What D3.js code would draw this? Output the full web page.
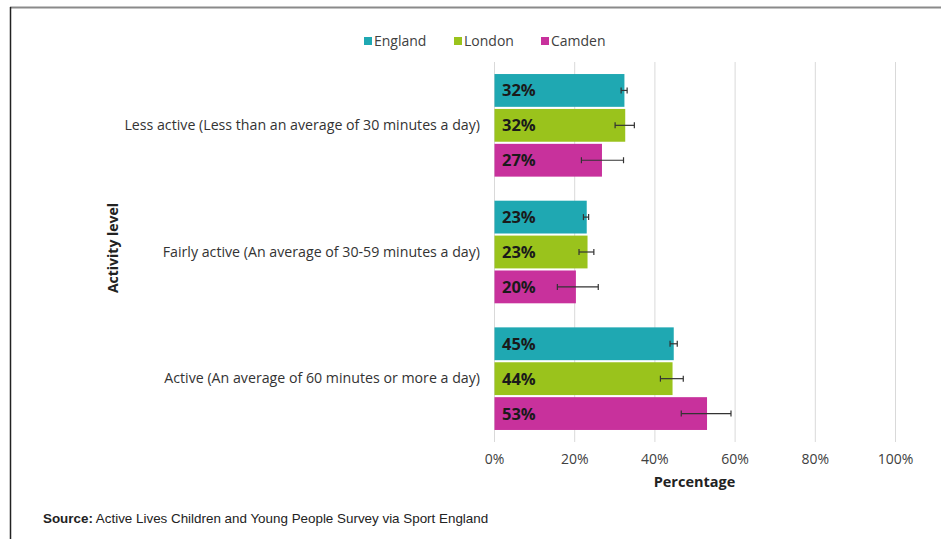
<!DOCTYPE html>
<html>
<head>
<meta charset="utf-8">
<script src="https://cdn.jsdelivr.net/npm/d3@7"></script>
<style>
  html, body { margin: 0; padding: 0; background: #fff; }
  svg { display: block; }
</style>
</head>
<body>
<svg id="chart" width="941" height="539"></svg>
<script>
const categories = [
  "Less active (Less than an average of 30 minutes a day)",
  "Fairly active (An average of 30-59 minutes a day)",
  "Active (An average of 60 minutes or more a day)"
];
const seriesNames = ["England", "London", "Camden"];
const seriesColors = ["#1fa8b2", "#9ac31c", "#c8319c"];
const englandValues = [32.4, 23.0, 44.7];
const londonValues  = [32.6, 23.2, 44.4];
const camdenValues  = [26.8, 20.3, 53.0];
const englandLow  = [31.7, 22.3, 43.9];
const englandHigh = [33.2, 23.6, 45.7];
const londonLow   = [30.2, 21.2, 41.5];
const londonHigh  = [35.0, 24.9, 47.2];
const camdenLow   = [21.8, 15.8, 46.7];
const camdenHigh  = [32.3, 26.0, 59.1];
const valueLabels = [["32%", "23%", "45%"], ["32%", "23%", "44%"], ["27%", "20%", "53%"]];
const xTicks = [0, 20, 40, 60, 80, 100];

const values = [englandValues, londonValues, camdenValues];
const lows = [englandLow, londonLow, camdenLow];
const highs = [englandHigh, londonHigh, camdenHigh];

const svg = d3.select("#chart");
const font = "'Open Sans', Lato, sans-serif";

// frame
svg.append("line").attr("x1", 10).attr("x2", 941).attr("y1", 7.5).attr("y2", 7.5)
  .attr("stroke", "#8a8a8a").attr("stroke-width", 2);
svg.append("line").attr("x1", 10.5).attr("x2", 10.5).attr("y1", 7).attr("y2", 539)
  .attr("stroke", "#222").attr("stroke-width", 1.5);

const x = d3.scaleLinear().domain([0, 100]).range([494, 895]);
const y = d3.scaleBand().domain(categories).range([62, 442]).paddingInner(0.19).paddingOuter(0.095);
const ySub = d3.scaleBand().domain(seriesNames).range([0, y.bandwidth()]).paddingInner(0.06);

// gridlines
svg.append("g").selectAll("line").data(xTicks).join("line")
  .attr("x1", d => x(d) + 0.5).attr("x2", d => x(d) + 0.5)
  .attr("y1", 62).attr("y2", 442)
  .attr("stroke", "#d9d9d9").attr("stroke-width", 1);

// x axis tick labels
const xAxis = d3.axisBottom(x).tickValues(xTicks).tickFormat(d => d + "%").tickSize(0).tickPadding(0);
const gx = svg.append("g").attr("transform", "translate(0,454)").call(xAxis);
gx.select(".domain").remove();
gx.selectAll("text").attr("font-family", font).attr("font-size", 14).attr("fill", "#404040");

// y axis category labels
const yAxis = d3.axisLeft(y).tickSize(0).tickPadding(0);
const gy = svg.append("g").attr("transform", "translate(480,0)").call(yAxis);
gy.select(".domain").remove();
gy.selectAll("text").attr("font-family", font).attr("font-size", 14.2).attr("fill", "#333");

// bars
seriesNames.forEach((s, si) => {
  const g = svg.append("g");
  g.selectAll("rect").data(categories).join("rect")
    .attr("x", x(0) + 0.5)
    .attr("y", c => y(c) + ySub(s))
    .attr("width", (c, i) => x(values[si][i]) - x(0))
    .attr("height", ySub.bandwidth())
    .attr("fill", seriesColors[si]);
  g.selectAll("text").data(categories).join("text")
    .attr("x", x(0) + 8)
    .attr("y", c => y(c) + ySub(s) + ySub.bandwidth() / 2)
    .attr("dy", "0.36em")
    .attr("font-family", font).attr("font-weight", "bold").attr("font-size", 16.5)
    .attr("fill", "#1a1a1a")
    .text((c, i) => valueLabels[si][i]);
  // error bars
  const eg = svg.append("g").attr("stroke", "#333").attr("stroke-width", 1.2);
  categories.forEach((c, i) => {
    const cy = y(c) + ySub(s) + ySub.bandwidth() / 2;
    eg.append("line").attr("x1", x(lows[si][i])).attr("x2", x(highs[si][i])).attr("y1", cy).attr("y2", cy);
    eg.append("line").attr("x1", x(lows[si][i])).attr("x2", x(lows[si][i])).attr("y1", cy - 3).attr("y2", cy + 3);
    eg.append("line").attr("x1", x(highs[si][i])).attr("x2", x(highs[si][i])).attr("y1", cy - 3).attr("y2", cy + 3);
  });
});

// axis titles
svg.append("text").attr("x", x(50)).attr("y", 487).attr("text-anchor", "middle")
  .attr("font-family", font).attr("font-weight", "bold").attr("font-size", 14.5).attr("fill", "#222")
  .text("Percentage");
svg.append("text").attr("transform", "translate(118,248) rotate(-90)").attr("text-anchor", "middle")
  .attr("font-family", font).attr("font-weight", "bold").attr("font-size", 14).attr("fill", "#222")
  .text("Activity level");

// legend
const legendX = [364, 454, 541];
const lg = svg.append("g");
seriesNames.forEach((s, i) => {
  lg.append("rect").attr("x", legendX[i]).attr("y", 37).attr("width", 8).attr("height", 8).attr("fill", seriesColors[i]);
  lg.append("text").attr("x", legendX[i] + 10).attr("y", 41).attr("dy", "0.36em")
    .attr("font-family", font).attr("font-size", 14).attr("fill", "#404040").text(s);
});

// source
const src = svg.append("text").attr("x", 43).attr("y", 523)
  .attr("font-family", "'Liberation Sans', Arial, sans-serif").attr("font-size", 13.4).attr("fill", "#222");
src.append("tspan").attr("font-weight", "bold").text("Source:");
src.append("tspan").text(" Active Lives Children and Young People Survey via Sport England");
</script>
</body>
</html>
